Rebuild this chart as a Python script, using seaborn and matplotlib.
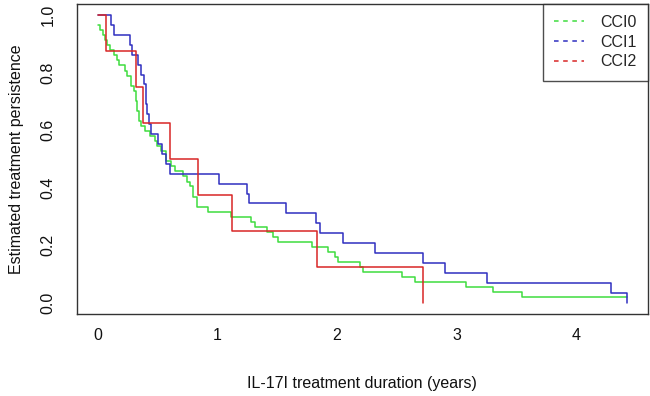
import matplotlib
matplotlib.use("Agg")
import matplotlib.pyplot as plt
from matplotlib.lines import Line2D
import seaborn as sns
import pandas as pd

# ---- data (step times in years, survival after step) ----
cci0_time = [0.0, 0.014, 0.042, 0.062, 0.079, 0.098, 0.134, 0.159, 0.173, 0.229, 0.246,
             0.273, 0.298, 0.321, 0.329, 0.340, 0.357, 0.390, 0.432, 0.474, 0.497, 0.530,
             0.572, 0.614, 0.641, 0.711, 0.744, 0.767, 0.794, 0.828, 0.920, 1.11, 1.28,
             1.31, 1.41, 1.46, 1.51, 1.79, 1.92, 1.98, 2.01, 2.19, 2.22, 2.54, 2.65, 3.08,
             3.30, 3.55, 4.42]
cci0_surv = [0.965, 0.947, 0.930, 0.912, 0.895, 0.877, 0.860, 0.842, 0.825, 0.807, 0.789,
             0.754, 0.737, 0.702, 0.667, 0.632, 0.614, 0.596, 0.579, 0.561, 0.544, 0.526,
             0.491, 0.474, 0.456, 0.439, 0.421, 0.404, 0.368, 0.333, 0.316, 0.298, 0.281,
             0.263, 0.246, 0.228, 0.211, 0.193, 0.175, 0.158, 0.140, 0.123, 0.105, 0.088,
             0.070, 0.053, 0.035, 0.018, 0.018]

cci1_time = [0.0, 0.106, 0.131, 0.265, 0.285, 0.334, 0.363, 0.382, 0.399, 0.413, 0.427,
             0.446, 0.500, 0.535, 0.572, 0.600, 1.01, 1.246, 1.26, 1.575, 1.826, 1.86,
             2.05, 2.32, 2.715, 2.905, 3.25, 4.29, 4.42]
cci1_surv = [1.0, 0.966, 0.931, 0.897, 0.862, 0.828, 0.793, 0.759, 0.690, 0.655, 0.621,
             0.586, 0.552, 0.517, 0.483, 0.448, 0.414, 0.379, 0.345, 0.310, 0.276, 0.241,
             0.207, 0.172, 0.138, 0.103, 0.069, 0.034, 0.0]

cci2_time = [0.0, 0.07, 0.32, 0.376, 0.605, 0.836, 1.12, 1.83, 2.72]
cci2_surv = [1.0, 0.875, 0.75, 0.625, 0.5, 0.375, 0.25, 0.125, 0.0]

groups = ["CCI0", "CCI1", "CCI2"]
colors = ["#3fdc3f", "#2f2fc0", "#d82626"]

x_ticks = [0, 1, 2, 3, 4]
y_ticks = [0.0, 0.2, 0.4, 0.6, 0.8, 1.0]
y_ticklabels = ["0.0", "0.2", "0.4", "0.6", "0.8", "1.0"]

frames = []
for g, t, s in zip(groups, [cci0_time, cci1_time, cci2_time], [cci0_surv, cci1_surv, cci2_surv]):
    frames.append(pd.DataFrame({"time": t, "surv": s, "group": g}))
df = pd.concat(frames, ignore_index=True)

sns.set_style("white")
plt.rcParams["font.family"] = ["Liberation Sans", "DejaVu Sans"]

fig = plt.figure(figsize=(6.5, 3.96), dpi=100)
ax = fig.add_axes([0.118, 0.207, 0.8785, 0.784])

sns.lineplot(data=df, x="time", y="surv", hue="group", hue_order=groups,
             palette=colors, estimator=None, sort=False, drawstyle="steps-post",
             linewidth=1.1, legend=False, ax=ax)

ax.set_xlim(-0.177, 4.597)
ax.set_ylim(-0.04, 1.04)
ax.set_xticks(x_ticks)
ax.set_xticklabels([str(v) for v in x_ticks])
ax.set_yticks(y_ticks)
ax.set_yticklabels(y_ticklabels, rotation=90, va="center")

for sp in ax.spines.values():
    sp.set_visible(True)
    sp.set_color("#333333")
    sp.set_linewidth(1.0)

ax.tick_params(axis="both", direction="out", length=5, width=0.9, color="#333333",
               labelsize=11.5, labelcolor="#111111")
ax.tick_params(axis="x", pad=5)
ax.tick_params(axis="y", pad=10)

ax.set_xlabel("IL-17I treatment duration (years)", fontsize=11.5, color="#111111")
ax.set_ylabel("Estimated treatment persistence", fontsize=11.5, color="#111111")
ax.xaxis.set_label_coords(0.5, -0.2)
ax.yaxis.set_label_coords(-0.093, 0.5)

handles = [Line2D([0], [0], color=c, linestyle=(0, (3, 3)), linewidth=1.1) for c in colors]
leg = ax.legend(handles, groups, loc="upper right", borderaxespad=0, frameon=True,
                fancybox=False, fontsize=11.5, handlelength=1.9, handletextpad=1.0,
                labelspacing=0.3, borderpad=0.7)
leg.get_frame().set_edgecolor("#222222")
leg.get_frame().set_linewidth(1.0)

fig.savefig("out.png", dpi=100)
